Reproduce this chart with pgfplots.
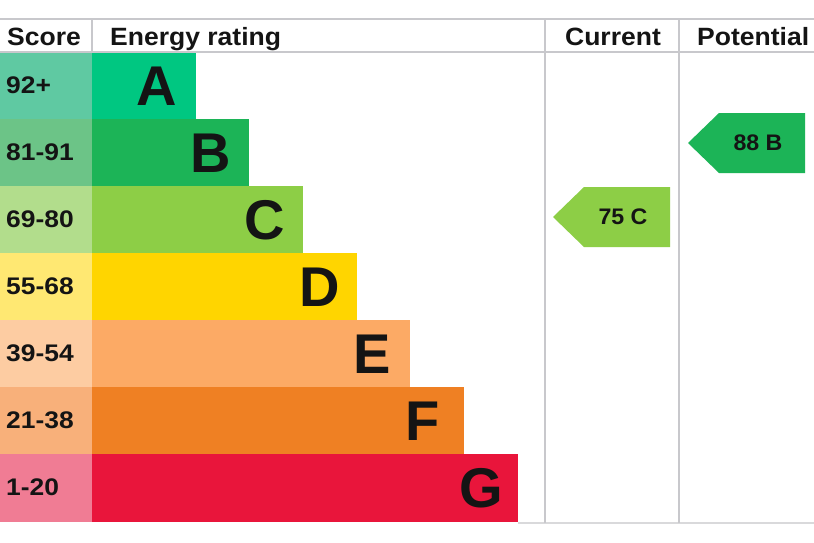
\documentclass[border=0pt]{standalone}
\usepackage{pgfplots}
\pgfplotsset{compat=1.18}
\usepackage{fontspec}
\setmainfont{Liberation Sans}
\definecolor{sA}{HTML}{5FC9A2}\definecolor{bA}{HTML}{00C781}
\definecolor{sB}{HTML}{6CC487}\definecolor{bB}{HTML}{1CB457}
\definecolor{sC}{HTML}{B2DD8C}\definecolor{bC}{HTML}{8DCE46}
\definecolor{sD}{HTML}{FFE872}\definecolor{bD}{HTML}{FFD500}
\definecolor{sE}{HTML}{FDCCA2}\definecolor{bE}{HTML}{FCAA65}
\definecolor{sF}{HTML}{F8B07A}\definecolor{bF}{HTML}{EF8023}
\definecolor{sG}{HTML}{F07C94}\definecolor{bG}{HTML}{E9153B}
\definecolor{gridc}{HTML}{C8C8CC}
\definecolor{txt}{HTML}{141414}
\tikzset{hdr/.style={font=\fontsize{25}{29}\selectfont\bfseries, text=txt, inner sep=0pt, xscale=1.06},
  scr/.style={anchor=west, font=\fontsize{24}{28}\selectfont\bfseries, text=txt, inner sep=0pt, xscale=1.1},
  big/.style={anchor=center, font=\fontsize{56}{60}\selectfont\bfseries, text=txt, inner sep=0pt},
  arr/.style={anchor=center, font=\fontsize{22.5}{26}\selectfont\bfseries, text=txt, inner sep=0pt, xscale=1.03}}
\begin{document}
\begin{tikzpicture}
\begin{axis}[
  scale only axis, width=814pt, height=542pt,
  xmin=0, xmax=814, ymin=0, ymax=542, y dir=reverse,
  hide axis, clip=true,
]
% background
\addplot[fill=white, draw=none] coordinates {(0,0) (814,0) (814,542) (0,542)};
% score cells
\addplot[fill=sA, draw=none] coordinates {(0,52) (92,52) (92,119) (0,119)};
\addplot[fill=sB, draw=none] coordinates {(0,119) (92,119) (92,186) (0,186)};
\addplot[fill=sC, draw=none] coordinates {(0,186) (92,186) (92,253) (0,253)};
\addplot[fill=sD, draw=none] coordinates {(0,253) (92,253) (92,320) (0,320)};
\addplot[fill=sE, draw=none] coordinates {(0,320) (92,320) (92,387) (0,387)};
\addplot[fill=sF, draw=none] coordinates {(0,387) (92,387) (92,454) (0,454)};
\addplot[fill=sG, draw=none] coordinates {(0,454) (92,454) (92,522) (0,522)};
% rating bars
\addplot[fill=bA, draw=none] coordinates {(92,52) (196,52) (196,119) (92,119)};
\addplot[fill=bB, draw=none] coordinates {(92,119) (249,119) (249,186) (92,186)};
\addplot[fill=bC, draw=none] coordinates {(92,186) (303,186) (303,253) (92,253)};
\addplot[fill=bD, draw=none] coordinates {(92,253) (357,253) (357,320) (92,320)};
\addplot[fill=bE, draw=none] coordinates {(92,320) (410,320) (410,387) (92,387)};
\addplot[fill=bF, draw=none] coordinates {(92,387) (464,387) (464,454) (92,454)};
\addplot[fill=bG, draw=none] coordinates {(92,454) (518,454) (518,522) (92,522)};
% grid lines
\addplot[draw=gridc, line width=2pt] coordinates {(0,19) (814,19)};
\addplot[draw=gridc, line width=2pt] coordinates {(0,52) (814,52)};
\addplot[draw=gridc!70, line width=2pt] coordinates {(518,523) (814,523)};
\addplot[draw=gridc, line width=1.5pt] coordinates {(92,19) (92,52)};
\addplot[draw=gridc, line width=1.5pt] coordinates {(545,19) (545,523)};
\addplot[draw=gridc, line width=1.5pt] coordinates {(679,19) (679,523)};
% arrows
\addplot[fill=bC, draw=none] coordinates {(553,217) (584,187) (670,187) (670,247) (584,247)};
\addplot[fill=bB, draw=none] coordinates {(688,143) (719,113) (805,113) (805,173) (719,173)};
% header texts
\node[hdr, anchor=base west] at (axis cs:7,45) {Score};
\node[hdr, anchor=base west] at (axis cs:110,45) {Energy rating};
\node[hdr, anchor=base] at (axis cs:613,45) {Current};
\node[hdr, anchor=base west] at (axis cs:697,45) {Potential};
% score labels
\node[scr] at (axis cs:6,85.5) {92+};
\node[scr] at (axis cs:6,152.5) {81-91};
\node[scr] at (axis cs:6,219.5) {69-80};
\node[scr] at (axis cs:6,286.5) {55-68};
\node[scr] at (axis cs:6,353.5) {39-54};
\node[scr] at (axis cs:6,420.5) {21-38};
\node[scr] at (axis cs:6,487.5) {1-20};
% letters
\node[big] at (axis cs:157,86) {A};
\node[big] at (axis cs:211,153) {B};
\node[big] at (axis cs:265,220) {C};
\node[big] at (axis cs:320,287) {D};
\node[big] at (axis cs:372,354) {E};
\node[big] at (axis cs:423,421) {F};
\node[big] at (axis cs:481,488) {G};
% arrow labels
\node[arr] at (axis cs:623,217) {75 C};
\node[arr] at (axis cs:758,143) {88 B};
\end{axis}
\end{tikzpicture}
\end{document}
